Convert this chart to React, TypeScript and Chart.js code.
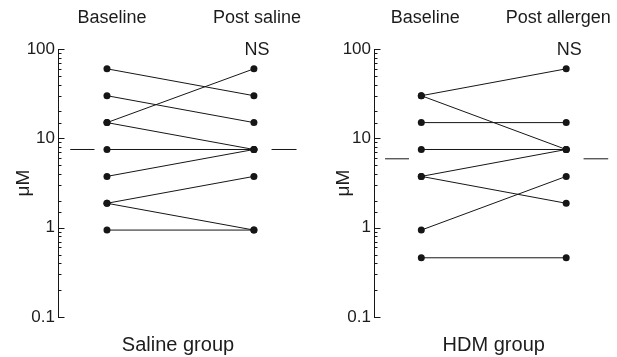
import React, { useEffect, useRef } from 'react';
import { Chart, registerables } from 'chart.js';

Chart.register(...registerables);

const FONT = "'Liberation Sans', Arial, sans-serif";
const TEXT = '#1c1c1c';
const INK = '#161616';

// ---- data ----
const timepoints = [0, 1];
const salineLabels = ['Baseline', 'Post saline'];
const hdmLabels = ['Baseline', 'Post allergen'];
const groupTitles = ['Saline group', 'HDM group'];
const significance = ['NS', 'NS'];

const salineBaseline = [60, 30, 15, 15, 7.5, 3.75, 1.875, 1.875, 0.94];
const salinePost = [30, 15, 60, 7.5, 7.5, 7.5, 3.75, 0.94, 0.94];
const salineMedians = [7.5, 7.5];

const hdmBaseline = [30, 30, 15, 7.5, 3.75, 3.75, 0.94, 0.46];
const hdmPost = [60, 7.5, 15, 7.5, 7.5, 1.875, 3.75, 0.46];
const hdmMedians = [5.9, 5.9];

const yTickValues = [0.1, 1, 10, 100];
const yTickLabels = ['0.1', '1', '10', '100'];
const yAxisTitle = 'μM';
const yMin = 0.1;
const yMax = 100;

const isPow10 = (v: number) => Math.abs(Math.log10(v) - Math.round(Math.log10(v))) < 1e-6;

const decorPlugin = {
  id: 'decor',
  afterDraw(chart: any, _args: any, opts: any) {
    const ctx = chart.ctx;
    const ys = chart.scales.y;
    const xs = chart.scales.x;
    ctx.save();
    ctx.strokeStyle = INK;
    ctx.lineWidth = 1;
    const x0 = Math.round(chart.chartArea.left) + 0.5;
    ys.ticks.forEach((t: any) => {
      const py = Math.round(ys.getPixelForValue(t.value)) + 0.5;
      const len = isPow10(t.value) ? 6 : 3;
      ctx.beginPath();
      ctx.moveTo(x0, py);
      ctx.lineTo(x0 + len, py);
      ctx.stroke();
    });
    ctx.fillStyle = TEXT;
    ctx.font = `18px ${FONT}`;
    ctx.textAlign = 'center';
    ctx.textBaseline = 'middle';
    ctx.fillText(opts.text, xs.getPixelForValue(1) + 3, ys.getPixelForValue(yMax) + 1);
    ctx.restore();
  },
};

interface PanelCfg {
  baseline: number[];
  post: number[];
  medians: number[];
  topLabels: string[];
  title: string;
  sig: string;
  xMin: number;
  xMax: number;
  topMin: number;
  topMax: number;
  yWidth: number;
  yTitlePad: number;
  padRight: number;
}

function makeConfig(p: PanelCfg): any {
  const datasets: any[] = p.baseline.map((b, i) => ({
    data: [
      { x: timepoints[0], y: b },
      { x: timepoints[1], y: p.post[i] },
    ],
    borderColor: INK,
    borderWidth: 1,
    pointRadius: 3.5,
    pointBorderWidth: 0,
    pointBackgroundColor: INK,
    pointHoverRadius: 3.5,
    fill: false,
  }));
  // median dashes beside each column
  datasets.push({
    data: [
      { x: -0.25, y: p.medians[0] },
      { x: -0.085, y: p.medians[0] },
    ],
    borderColor: INK,
    borderWidth: 1,
    pointRadius: 0,
  });
  datasets.push({
    data: [
      { x: 1.12, y: p.medians[1] },
      { x: 1.29, y: p.medians[1] },
    ],
    borderColor: INK,
    borderWidth: 1,
    pointRadius: 0,
  });

  return {
    type: 'line',
    data: { datasets },
    plugins: [decorPlugin],
    options: {
      responsive: false,
      animation: false,
      layout: { padding: { left: 0, right: p.padRight, top: 0, bottom: 0 } },
      plugins: {
        legend: { display: false },
        tooltip: { enabled: false },
        decor: { text: p.sig },
      },
      scales: {
        x: {
          type: 'linear',
          position: 'bottom',
          min: p.xMin,
          max: p.xMax,
          ticks: { display: false },
          grid: { display: false, drawTicks: false },
          border: { display: false },
          title: {
            display: true,
            text: p.title,
            color: TEXT,
            font: { family: FONT, size: 20 },
            padding: { top: 0, bottom: 0 },
          },
          afterFit: (s: any) => {
            s.height = 40;
          },
        },
        xTop: {
          type: 'linear',
          position: 'top',
          min: p.topMin,
          max: p.topMax,
          afterBuildTicks: (s: any) => {
            s.ticks = timepoints.map((v) => ({ value: v }));
          },
          ticks: {
            callback: (_v: any, i: number) => p.topLabels[i],
            color: TEXT,
            font: { family: FONT, size: 18 },
            padding: 20,
            autoSkip: false,
            maxRotation: 0,
          },
          grid: { display: false, drawTicks: false },
          border: { display: false },
          afterFit: (s: any) => {
            s.height = 49;
            s.paddingLeft = 0;
            s.paddingRight = 0;
          },
        },
        y: {
          type: 'logarithmic',
          position: 'left',
          min: yMin,
          max: yMax,
          ticks: {
            autoSkip: false,
            color: TEXT,
            font: { family: FONT, size: 17 },
            padding: 3,
            callback: (v: any) => {
              const i = yTickValues.findIndex((t) => Math.abs(Math.log10(t) - Math.log10(Number(v))) < 1e-6);
              return i >= 0 ? yTickLabels[i] : '';
            },
          },
          grid: { display: false, drawTicks: false },
          border: { display: true, color: INK, width: 1 },
          title: {
            display: true,
            text: yAxisTitle,
            color: TEXT,
            font: { family: FONT, size: 19 },
            padding: { top: p.yTitlePad, bottom: 0 },
          },
          afterFit: (s: any) => {
            s.width = p.yWidth;
          },
        },
      },
    },
  };
}

function Panel({ cfg, left, width }: { cfg: PanelCfg; left: number; width: number }) {
  const ref = useRef<HTMLCanvasElement | null>(null);
  useEffect(() => {
    if (!ref.current) return;
    const chart = new Chart(ref.current, makeConfig(cfg));
    return () => chart.destroy();
  }, []);
  return (
    <canvas
      ref={ref}
      width={width}
      height={357}
      style={{ position: 'absolute', left, top: 0, width, height: 357 }}
    />
  );
}

const salineCfg: PanelCfg = {
  baseline: salineBaseline,
  post: salinePost,
  medians: salineMedians,
  topLabels: salineLabels,
  title: groupTitles[0],
  sig: significance[0],
  xMin: -1 / 3,
  xMax: 1.3,
  topMin: -0.3724,
  topMax: 1.2828,
  yWidth: 58,
  yTitlePad: 12,
  padRight: 12,
};

const hdmCfg: PanelCfg = {
  baseline: hdmBaseline,
  post: hdmPost,
  medians: hdmMedians,
  topLabels: hdmLabels,
  title: groupTitles[1],
  sig: significance[1],
  xMin: -0.3265,
  xMax: 1.3265,
  topMin: -0.385,
  topMax: 1.415,
  yWidth: 64,
  yTitlePad: 22,
  padRight: 0,
};

export default function App() {
  return (
    <div style={{ position: 'fixed', left: 0, top: 0, width: 617, height: 357, background: '#fff', overflow: 'hidden' }}>
      <Panel cfg={salineCfg} left={0} width={310} />
      <Panel cfg={hdmCfg} left={310} width={307} />
    </div>
  );
}
